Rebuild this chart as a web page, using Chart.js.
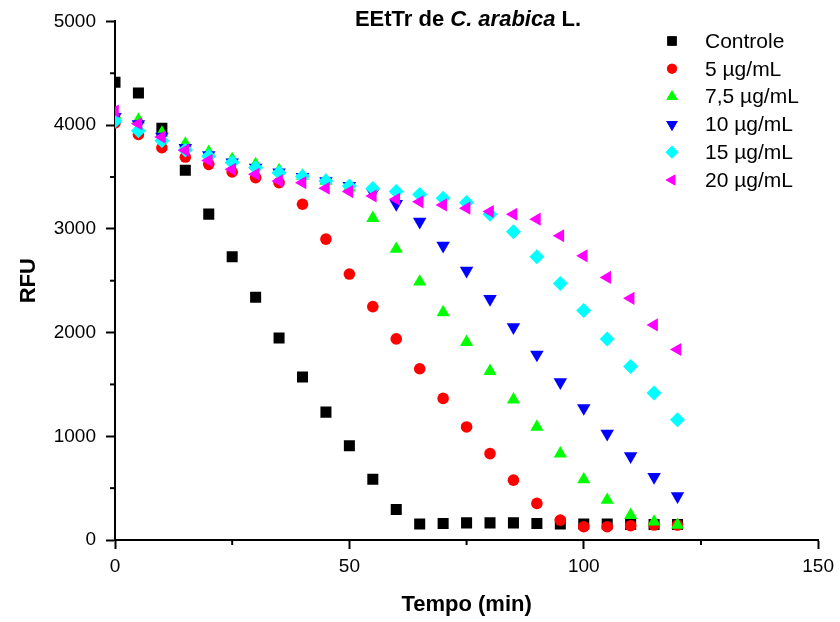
<!DOCTYPE html>
<html>
<head>
<meta charset="utf-8">
<script src="https://cdn.jsdelivr.net/npm/chart.js@4"></script>
<style>
  body { margin: 0; background: #fff; }
  #wrap { position: relative; width: 840px; height: 622px; }
  #title {
    position: absolute; left: 268px; width: 400px; top: 7px;
    text-align: center; white-space: nowrap;
    font: bold 22px "Liberation Sans", Arial, sans-serif; line-height: 24px; color: #000;
  }
</style>
</head>
<body>
<div id="wrap">
  <canvas id="chart" width="840" height="622"></canvas>
  <div id="title">EEtTr de <i>C. arabica</i> L.</div>
</div>
<script>
const tempo = [0, 5, 10, 15, 20, 25, 30, 35, 40, 45, 50, 55, 60, 65, 70, 75, 80, 85, 90, 95, 100, 105, 110, 115, 120];
const controle = [4413, 4310, 3970, 3565, 3142, 2731, 2340, 1948, 1572, 1233, 908, 585, 295, 155, 160, 165, 165, 165, 160, 155, 155, 155, 150, 150, 150];
const conc5 = [4022, 3910, 3782, 3692, 3622, 3548, 3494, 3445, 3237, 2901, 2564, 2250, 1939, 1651, 1365, 1090, 833, 577, 353, 192, 128, 128, 138, 144, 144];
const conc75 = [4100, 4050, 3925, 3820, 3740, 3670, 3622, 3564, 3510, 3462, 3397, 3103, 2805, 2490, 2195, 1907, 1628, 1353, 1090, 833, 583, 385, 240, 176, 144];
const conc10 = [4080, 4010, 3890, 3780, 3710, 3640, 3590, 3545, 3500, 3460, 3415, 3350, 3240, 3070, 2837, 2596, 2324, 2051, 1788, 1522, 1272, 1025, 808, 609, 423];
const conc15 = [4040, 3945, 3850, 3760, 3700, 3640, 3590, 3541, 3505, 3462, 3413, 3390, 3360, 3330, 3295, 3253, 3141, 2971, 2731, 2474, 2212, 1939, 1673, 1417, 1160];
const conc20 = [4135, 4013, 3885, 3757, 3660, 3574, 3526, 3462, 3445, 3391, 3359, 3317, 3285, 3260, 3231, 3199, 3167, 3141, 3093, 2933, 2740, 2532, 2330, 2074, 1837];

const labels = ['Controle', '5 µg/mL', '7,5 µg/mL', '10 µg/mL', '15 µg/mL', '20 µg/mL'];
const yTicks = [0, 1000, 2000, 3000, 4000, 5000];
const xTicks = [0, 50, 100, 150];

const series = [controle, conc5, conc75, conc10, conc15, conc20];
const colors = ['#000000', '#FF0000', '#00FF00', '#0000FF', '#00FFFF', '#FF00FF'];
const styles = ['rect', 'circle', 'triangle', 'triangle', 'rectRot', 'triangle'];
const rotations = [0, 0, 0, 180, 0, 270];
const radii = [7.8, 5.8, 7.6, 7.8, 7.5, 7.6];

const FONT = '"Liberation Sans", Arial, sans-serif';

const datasets = series.map((vals, i) => ({
  label: labels[i],
  data: vals.map((v, j) => ({ x: tempo[j], y: v })),
  showLine: false,
  pointStyle: styles[i],
  rotation: rotations[i],
  pointRadius: radii[i],
  pointHoverRadius: radii[i],
  pointBackgroundColor: colors[i],
  pointBorderWidth: 0,
  borderColor: colors[i],
  backgroundColor: colors[i],
  order: series.length - i,
}));

// minor ticks + legend in the plot corner
const extras = {
  id: 'extras',
  afterDraw(chart) {
    const ctx = chart.ctx;
    const xs = chart.scales.x;
    const ys = chart.scales.y;
    ctx.save();
    ctx.strokeStyle = '#000';
    ctx.lineWidth = 2;
    [25, 75, 125].forEach(v => {
      const px = xs.getPixelForValue(v);
      ctx.beginPath();
      ctx.moveTo(px, ys.bottom);
      ctx.lineTo(px, ys.bottom + 5);
      ctx.stroke();
    });
    [500, 1500, 2500, 3500, 4500].forEach(v => {
      const py = ys.getPixelForValue(v);
      ctx.beginPath();
      ctx.moveTo(xs.left, py);
      ctx.lineTo(xs.left - 5, py);
      ctx.stroke();
    });

    ctx.font = '21px ' + FONT;
    ctx.textBaseline = 'middle';
    labels.forEach((lab, i) => {
      const y = 41 + i * 27.8;
      ctx.fillStyle = colors[i];
      Chart.helpers.drawPoint(ctx, {
        pointStyle: styles[i],
        rotation: rotations[i],
        radius: radii[i] * 0.85,
        borderWidth: 0,
      }, 672, y);
      ctx.fill();
      ctx.fillStyle = '#000';
      ctx.fillText(lab, 705, y + 1);
    });
    ctx.restore();
  }
};

new Chart(document.getElementById('chart'), {
  type: 'scatter',
  data: { datasets },
  plugins: [extras],
  options: {
    responsive: false,
    animation: false,
    layout: { padding: { top: 20, right: 20, left: 0, bottom: 0 } },
    plugins: {
      legend: { display: false },
      tooltip: { enabled: false },
    },
    scales: {
      x: {
        type: 'linear',
        min: 0,
        max: 150,
        afterBuildTicks: (s) => { s.ticks = xTicks.map(v => ({ value: v })); },
        afterFit: (s) => { s.height = 82; },
        border: { color: '#000', width: 2 },
        grid: { drawOnChartArea: false, tickLength: 9, tickWidth: 2, tickColor: '#000' },
        ticks: { color: '#000', font: { family: FONT, size: 19 }, padding: 6, callback: (v) => String(v) },
        title: {
          display: true,
          text: 'Tempo (min)',
          color: '#000',
          font: { family: FONT, size: 22, weight: 'bold' },
          padding: { top: 14 },
        },
      },
      y: {
        type: 'linear',
        min: 0,
        max: 5000,
        afterBuildTicks: (s) => { s.ticks = yTicks.map(v => ({ value: v })); },
        afterFit: (s) => { s.width = 115; },
        border: { color: '#000', width: 2 },
        grid: { drawOnChartArea: false, tickLength: 9, tickWidth: 2, tickColor: '#000' },
        ticks: { color: '#000', font: { family: FONT, size: 19 }, padding: 10, callback: (v) => String(v) },
        title: {
          display: true,
          text: 'RFU',
          color: '#000',
          font: { family: FONT, size: 22, weight: 'bold' },
          padding: { top: 16, bottom: 0 },
        },
      },
    },
  },
});
</script>
</body>
</html>
